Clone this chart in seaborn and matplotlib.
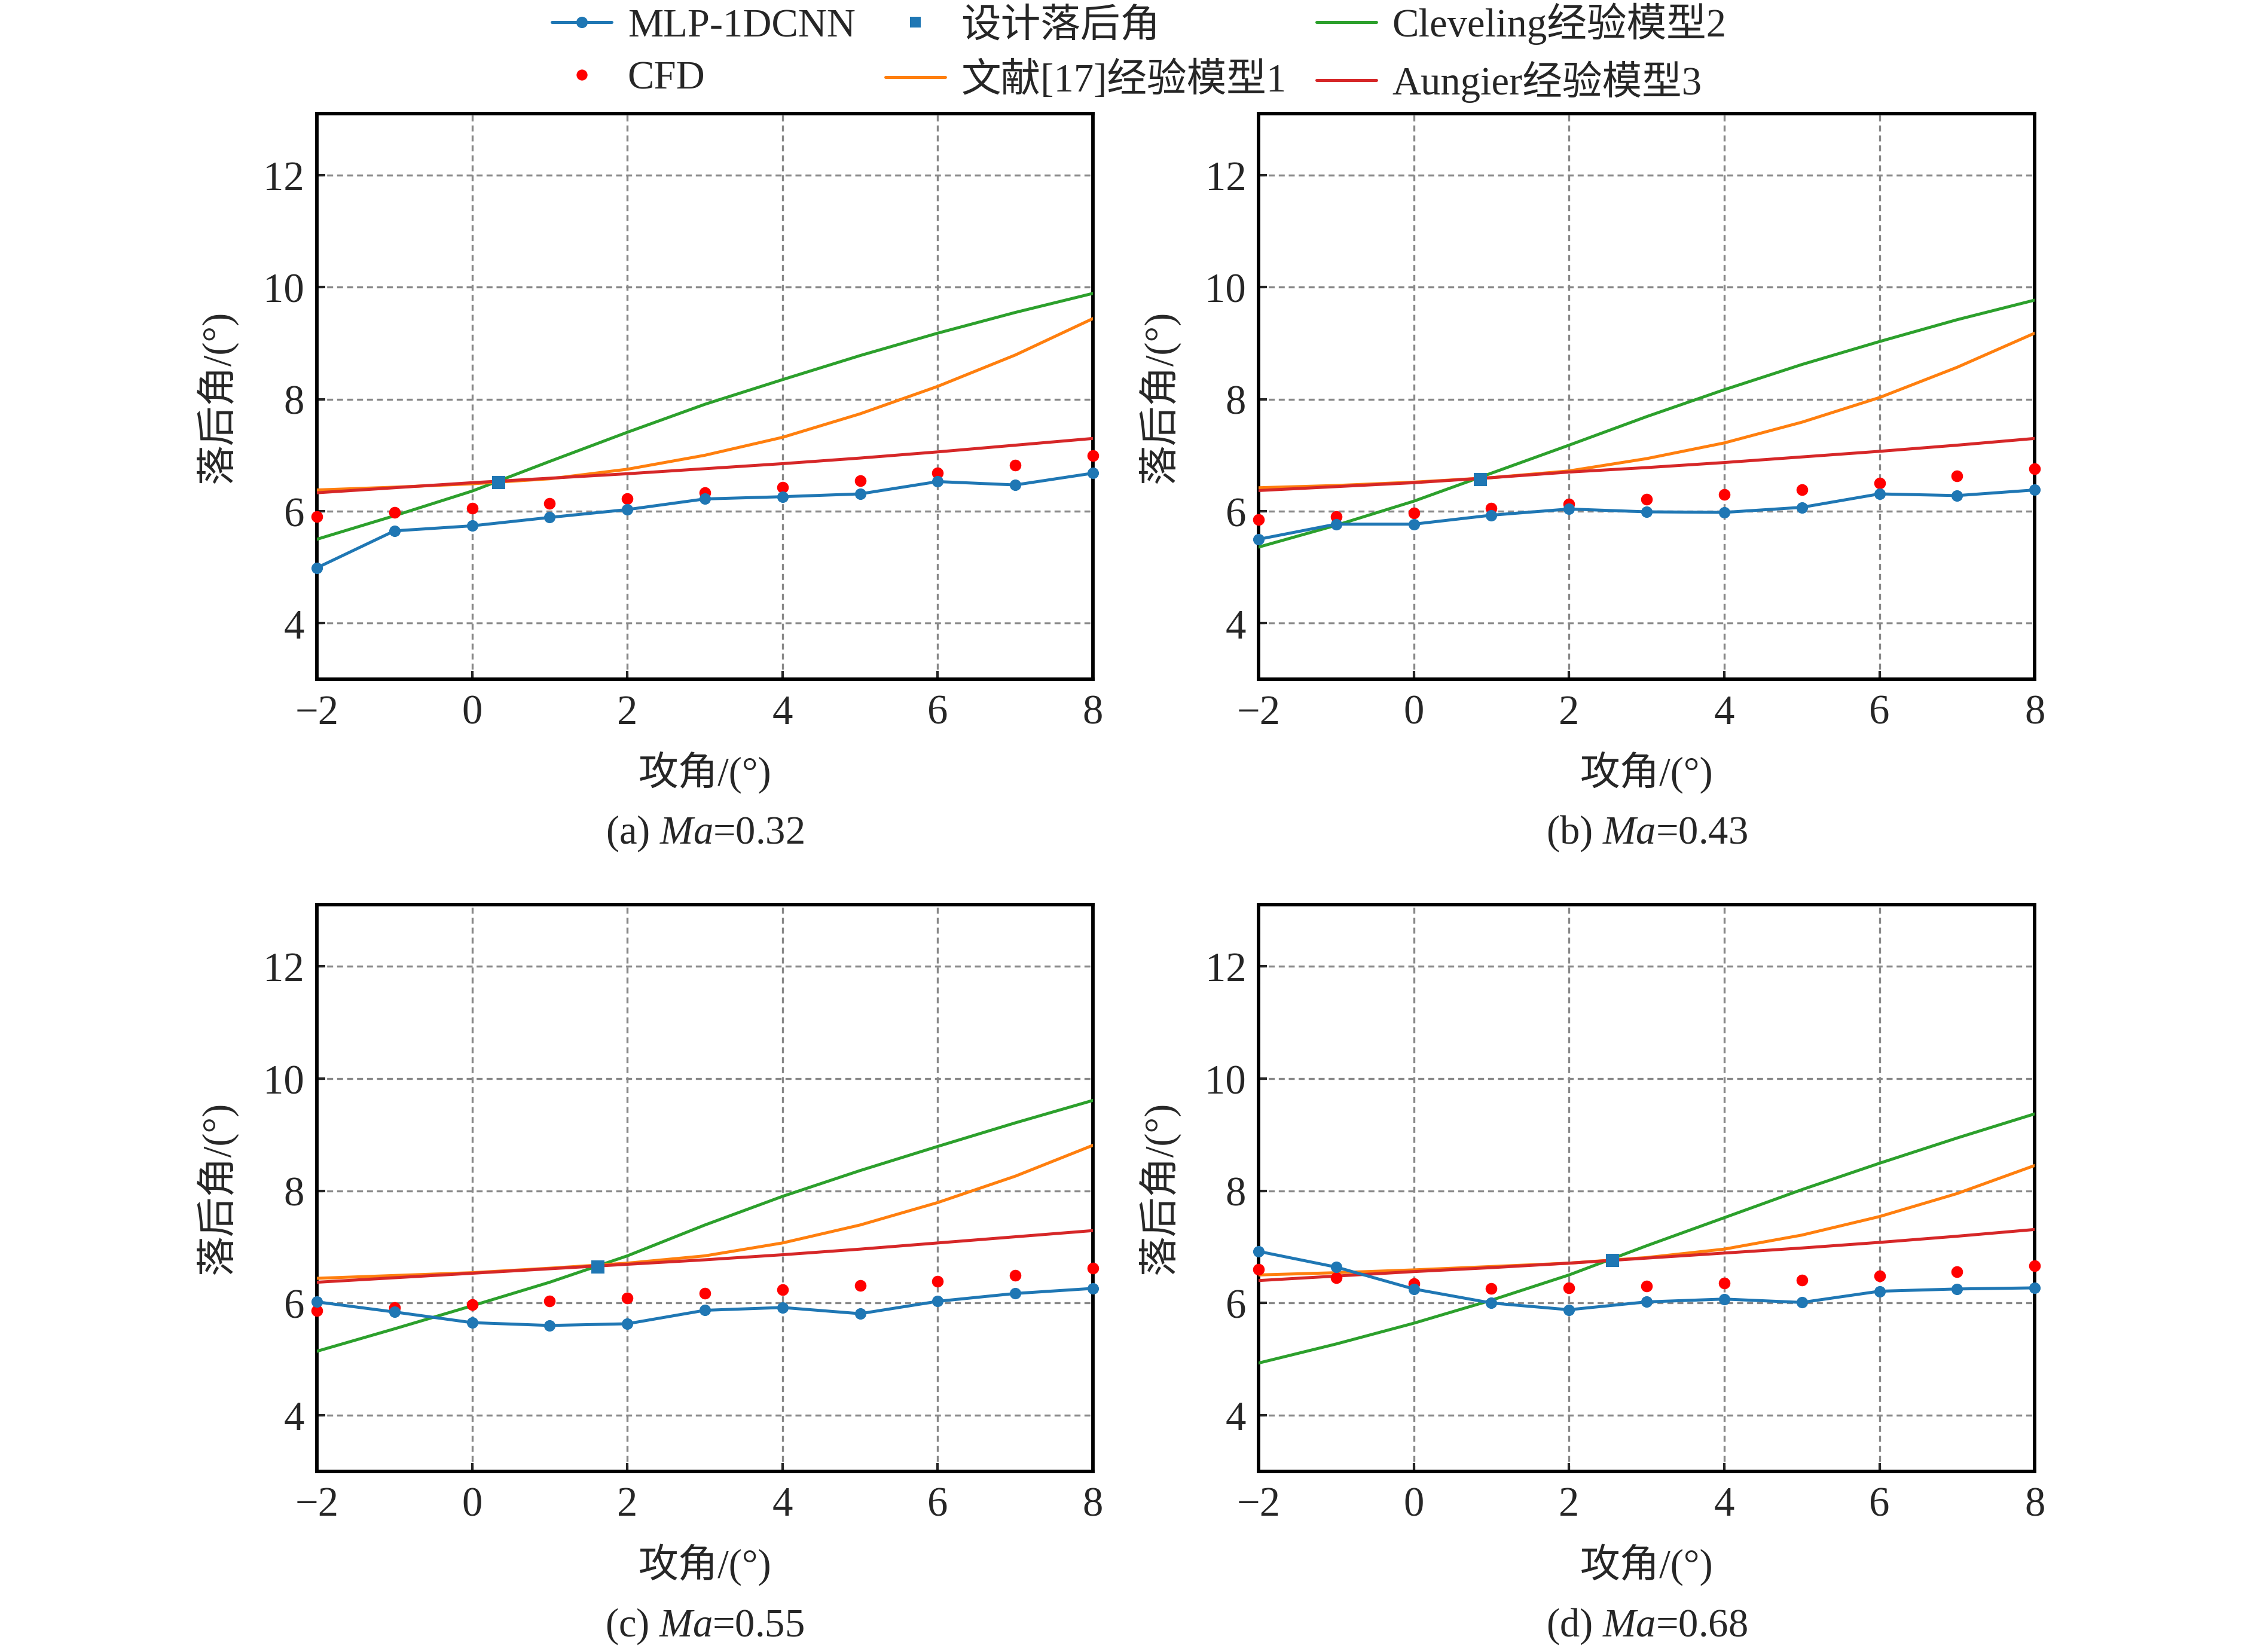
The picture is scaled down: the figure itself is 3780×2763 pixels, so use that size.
import numpy as np
import pandas as pd
import matplotlib
matplotlib.use("Agg")
import matplotlib.pyplot as plt
from matplotlib.lines import Line2D
import seaborn as sns

# attack angles
aoa = [-2, -1, 0, 1, 2, 3, 4, 5, 6, 7, 8]

# MLP-1DCNN predictions
mlp_a = [4.99, 5.65, 5.74, 5.89, 6.03, 6.22, 6.26, 6.31, 6.53, 6.47, 6.68]
mlp_b = [5.50, 5.77, 5.77, 5.93, 6.04, 5.99, 5.98, 6.07, 6.31, 6.28, 6.38]
mlp_c = [6.02, 5.84, 5.65, 5.60, 5.63, 5.87, 5.92, 5.81, 6.03, 6.17, 6.26]
mlp_d = [6.92, 6.64, 6.25, 6.00, 5.88, 6.02, 6.07, 6.01, 6.21, 6.25, 6.27]

# CFD results
cfd_a = [5.91, 5.98, 6.05, 6.14, 6.23, 6.33, 6.43, 6.55, 6.68, 6.82, 6.99]
cfd_b = [5.85, 5.91, 5.97, 6.05, 6.13, 6.21, 6.30, 6.39, 6.50, 6.63, 6.76]
cfd_c = [5.86, 5.92, 5.97, 6.03, 6.09, 6.17, 6.24, 6.31, 6.39, 6.49, 6.62]
cfd_d = [6.60, 6.45, 6.34, 6.26, 6.27, 6.30, 6.36, 6.41, 6.48, 6.56, 6.66]

# design deviation point (x, y)
design_x = [0.34, 0.86, 1.62, 2.56]
design_y = [6.51, 6.57, 6.64, 6.76]

# empirical model 1 (ref [17])
m1_a = [6.38, 6.43, 6.49, 6.58, 6.75, 7.00, 7.32, 7.74, 8.23, 8.79, 9.44]
m1_b = [6.42, 6.46, 6.52, 6.60, 6.72, 6.94, 7.22, 7.59, 8.03, 8.57, 9.18]
m1_c = [6.44, 6.49, 6.54, 6.62, 6.71, 6.84, 7.07, 7.39, 7.79, 8.26, 8.81]
m1_d = [6.50, 6.54, 6.59, 6.65, 6.71, 6.81, 6.96, 7.21, 7.54, 7.95, 8.45]

# Cleveling model 2
m2_a = [5.50, 5.92, 6.36, 6.89, 7.41, 7.91, 8.35, 8.78, 9.18, 9.55, 9.89]
m2_b = [5.36, 5.75, 6.18, 6.68, 7.18, 7.69, 8.17, 8.62, 9.03, 9.42, 9.77]
m2_c = [5.14, 5.54, 5.95, 6.37, 6.84, 7.39, 7.90, 8.36, 8.79, 9.21, 9.61]
m2_d = [4.93, 5.27, 5.64, 6.05, 6.50, 7.02, 7.52, 8.02, 8.49, 8.94, 9.37]

# Aungier model 3
m3_a = [6.33, 6.42, 6.51, 6.59, 6.67, 6.76, 6.85, 6.95, 7.06, 7.18, 7.30]
m3_b = [6.37, 6.44, 6.51, 6.60, 6.70, 6.78, 6.87, 6.97, 7.07, 7.18, 7.30]
m3_c = [6.37, 6.45, 6.53, 6.61, 6.69, 6.77, 6.86, 6.96, 7.07, 7.18, 7.29]
m3_d = [6.40, 6.48, 6.56, 6.63, 6.71, 6.80, 6.89, 6.98, 7.08, 7.19, 7.31]

titles = ["(a) $\\mathit{Ma}$=0.32", "(b) $\\mathit{Ma}$=0.43",
          "(c) $\\mathit{Ma}$=0.55", "(d) $\\mathit{Ma}$=0.68"]

sns.set_style("ticks")
plt.rcParams['font.family'] = ['Liberation Serif', 'Noto Sans CJK SC']
plt.rcParams['mathtext.fontset'] = 'custom'
plt.rcParams['mathtext.rm'] = 'Liberation Serif'
plt.rcParams['mathtext.it'] = 'Liberation Serif:italic'
plt.rcParams['axes.unicode_minus'] = True

c_mlp = '#1f77b4'
c_cfd = '#ff0000'
c_m1 = '#ff7f0e'
c_m2 = '#2ca02c'
c_m3 = '#d62728'
fs = 16

fig = plt.figure(figsize=(12.6, 9.2133), dpi=300)
pos = [[0.1402, 0.5886, 0.3434, 0.3423],
       [0.5569, 0.5886, 0.3434, 0.3423],
       [0.1402, 0.1093, 0.3434, 0.3430],
       [0.5569, 0.1093, 0.3434, 0.3430]]

mlp_all = [mlp_a, mlp_b, mlp_c, mlp_d]
cfd_all = [cfd_a, cfd_b, cfd_c, cfd_d]
m1_all = [m1_a, m1_b, m1_c, m1_d]
m2_all = [m2_a, m2_b, m2_c, m2_d]
m3_all = [m3_a, m3_b, m3_c, m3_d]

for i in range(4):
    ax = fig.add_axes(pos[i])
    sns.lineplot(x=aoa, y=m2_all[i], color=c_m2, lw=1.2, ax=ax, zorder=3)
    sns.lineplot(x=aoa, y=m1_all[i], color=c_m1, lw=1.2, ax=ax, zorder=3)
    sns.lineplot(x=aoa, y=m3_all[i], color=c_m3, lw=1.2, ax=ax, zorder=3)
    sns.scatterplot(x=aoa, y=cfd_all[i], color=c_cfd, s=22, linewidth=0,
                    ax=ax, zorder=4, clip_on=False)
    sns.lineplot(x=aoa, y=mlp_all[i], color=c_mlp, lw=1.2, marker='o',
                 markersize=4.6, markeredgewidth=0, ax=ax, zorder=5, clip_on=False)
    sns.scatterplot(x=[design_x[i]], y=[design_y[i]], color=c_mlp, marker='s',
                    s=26, linewidth=0, ax=ax, zorder=6)
    if ax.get_legend():
        ax.get_legend().remove()

    ax.set_xlim(-2, 8)
    ax.set_ylim(3, 13.1)
    ax.set_xticks([-2, 0, 2, 4, 6, 8])
    ax.set_yticks([4, 6, 8, 10, 12])
    ax.grid(True, ls=(0, (3, 2)), color='#888888', lw=0.8)
    ax.tick_params(direction='in', length=3.4, width=1.0, labelsize=16.5,
                   top=False, right=False)
    ax.tick_params(axis='x', pad=6)
    ax.tick_params(axis='y', pad=5)
    for sp in ax.spines.values():
        sp.set_linewidth(1.4)
        sp.set_color('black')
    ax.set_xlabel('攻角/(°)', fontsize=fs)
    ax.set_ylabel('落后角/(°)', fontsize=fs)
    ax.xaxis.set_label_coords(0.5, -0.163)
    ax.xaxis.label.set_va('center')
    ax.yaxis.set_label_coords(-0.129, 0.5)
    ax.yaxis.label.set_va('center')
    ax.text(0.5, -0.272, titles[i], transform=ax.transAxes, ha='center',
            va='center', fontsize=fs)

handles = [
    Line2D([], [], color=c_mlp, lw=1.2, marker='o', markersize=4.6, markeredgewidth=0),
    Line2D([], [], color=c_cfd, lw=0, marker='o', markersize=4.4, markeredgewidth=0),
    Line2D([], [], color=c_mlp, lw=0, marker='s', markersize=4.4, markeredgewidth=0),
    Line2D([], [], color=c_m1, lw=1.2),
    Line2D([], [], color=c_m2, lw=1.2),
    Line2D([], [], color=c_m3, lw=1.2),
]
labels = ['MLP-1DCNN', 'CFD', '设计落后角', '文献[17]经验模型1',
          'Cleveling经验模型2', 'Aungier经验模型3']
fig.legend(handles, labels, loc='upper center', bbox_to_anchor=(0.504, 1.02),
           ncol=3, frameon=False, fontsize=fs, handlelength=1.5,
           columnspacing=0.75, handletextpad=0.4, labelspacing=0.4)

fig.savefig('out.png', dpi=300)
